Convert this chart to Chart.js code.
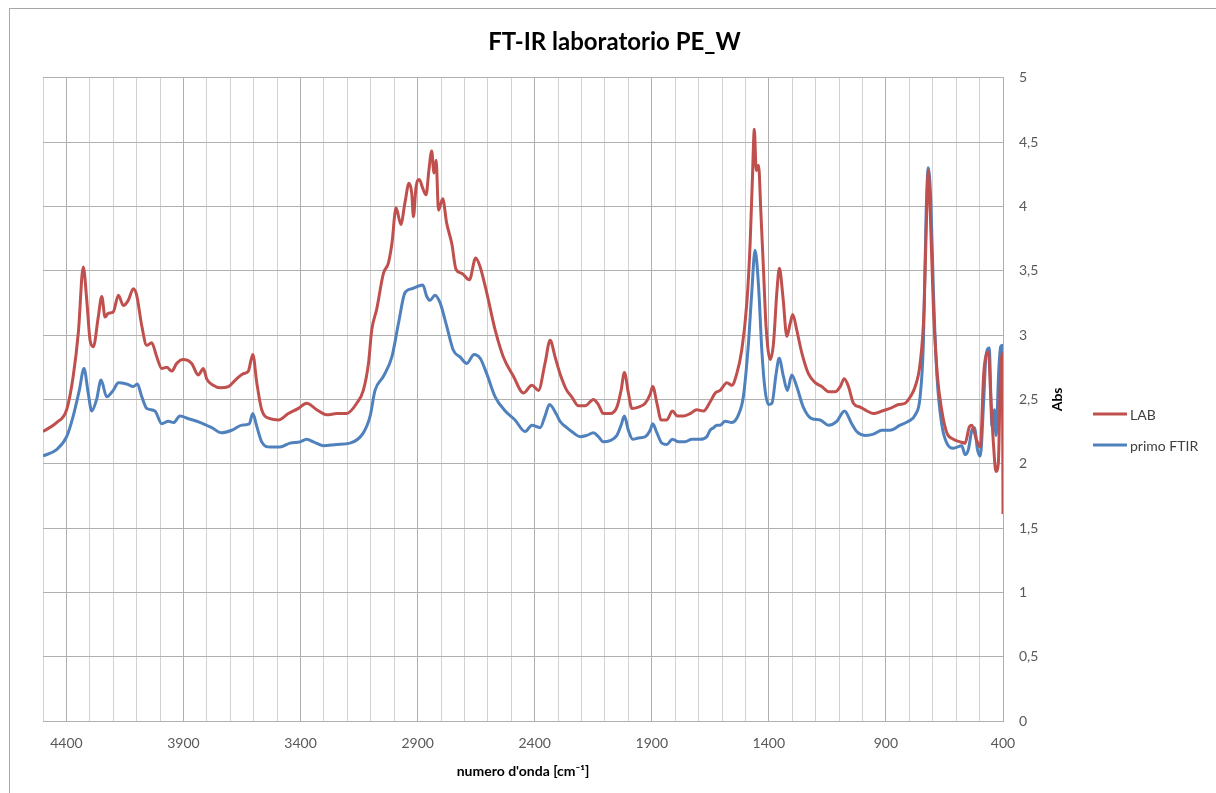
<!DOCTYPE html>
<html>
<head>
<meta charset="utf-8">
<script src="https://cdn.jsdelivr.net/npm/chart.js@4.4.1/dist/chart.umd.min.js"></script>
<style>
  html, body { margin: 0; padding: 0; background: #fff; overflow: hidden; }
  #wrap { position: relative; width: 1216px; height: 793px; }
</style>
</head>
<body>
<div id="wrap"><canvas id="chart" width="1216" height="793"></canvas></div>
<script>
// LAB spectrum (wavenumber cm-1 / absorbance)
const labWn = [4500, 4442, 4399, 4371, 4349, 4328, 4313, 4299, 4285, 4264, 4249, 4235, 4221, 4200, 4178, 4157, 4136, 4114, 4100, 4078,
  4057, 4036, 4014, 3993, 3972, 3950, 3929, 3901, 3865, 3837, 3815, 3801, 3773, 3744, 3708, 3673, 3644, 3623, 3604, 3587,
  3566, 3530, 3495, 3452, 3409, 3374, 3331, 3288, 3245, 3203, 3160, 3132, 3110, 3096, 3075, 3046, 3025, 3010, 2992, 2972,
  2954, 2937, 2925, 2918, 2907, 2893, 2878, 2864, 2852, 2840, 2830, 2821, 2811, 2793, 2776, 2754, 2736, 2711, 2679, 2652,
  2633, 2605, 2569, 2534, 2491, 2448, 2412, 2384, 2356, 2334, 2313, 2292, 2263, 2242, 2213, 2185, 2149, 2128, 2107, 2078,
  2049, 2031, 2017, 2000, 1985, 1957, 1928, 1907, 1896, 1878, 1860, 1836, 1812, 1790, 1765, 1736, 1708, 1679, 1651, 1629,
  1608, 1579, 1558, 1537, 1516, 1494, 1480, 1470, 1462, 1454, 1444, 1434, 1423, 1412, 1394, 1380, 1366, 1355, 1340, 1323,
  1309, 1298, 1281, 1259, 1231, 1202, 1174, 1145, 1117, 1095, 1078, 1060, 1039, 1010, 981, 953, 917, 882, 846, 818,
  796, 775, 754, 737, 725, 719, 711, 697, 680, 662, 640, 612, 583, 562, 543, 533, 514, 497, 483, 476,
  462, 453, 441, 430, 420, 412, 403, 400];
const labAbs = [2.25, 2.32, 2.42, 2.68, 3.02, 3.53, 3.27, 2.96, 2.91, 3.14, 3.30, 3.14, 3.17, 3.18, 3.31, 3.23, 3.27, 3.36, 3.31, 3.07,
  2.92, 2.94, 2.83, 2.74, 2.75, 2.72, 2.78, 2.81, 2.78, 2.69, 2.74, 2.66, 2.61, 2.59, 2.60, 2.66, 2.70, 2.72, 2.85, 2.63,
  2.42, 2.35, 2.34, 2.39, 2.43, 2.47, 2.42, 2.38, 2.39, 2.39, 2.47, 2.57, 2.78, 3.04, 3.20, 3.48, 3.56, 3.71, 3.99, 3.86,
  4.03, 4.18, 4.10, 3.92, 4.15, 4.21, 4.14, 4.09, 4.28, 4.43, 4.26, 4.36, 3.97, 4.06, 3.87, 3.71, 3.51, 3.48, 3.43, 3.60,
  3.53, 3.33, 3.04, 2.83, 2.68, 2.55, 2.61, 2.57, 2.78, 2.96, 2.83, 2.70, 2.57, 2.52, 2.45, 2.45, 2.50, 2.46, 2.39, 2.39,
  2.44, 2.57, 2.71, 2.55, 2.43, 2.44, 2.47, 2.54, 2.60, 2.47, 2.34, 2.34, 2.41, 2.37, 2.37, 2.39, 2.42, 2.41, 2.48, 2.55,
  2.57, 2.63, 2.61, 2.70, 2.88, 3.25, 3.71, 4.23, 4.60, 4.28, 4.32, 3.95, 3.51, 3.07, 2.81, 2.94, 3.33, 3.52, 3.30, 2.99,
  3.09, 3.16, 3.04, 2.86, 2.70, 2.63, 2.60, 2.56, 2.56, 2.60, 2.66, 2.60, 2.47, 2.44, 2.41, 2.39, 2.41, 2.43, 2.46, 2.47,
  2.52, 2.60, 2.78, 3.20, 4.03, 4.28, 3.97, 3.20, 2.68, 2.42, 2.24, 2.19, 2.17, 2.16, 2.29, 2.30, 2.19, 2.13, 2.68, 2.81,
  2.87, 2.55, 2.16, 1.94, 2.00, 2.60, 2.86, 1.61];

// primo FTIR spectrum
const ftirWn = [4500, 4442, 4399, 4371, 4345, 4325, 4307, 4292, 4271, 4252, 4228, 4200, 4178, 4143, 4114, 4097, 4078, 4057, 4022, 3993,
  3965, 3943, 3915, 3879, 3843, 3815, 3779, 3737, 3694, 3651, 3619, 3604, 3587, 3566, 3530, 3488, 3445, 3402, 3374, 3345,
  3303, 3245, 3189, 3132, 3103, 3082, 3046, 3010, 2982, 2954, 2925, 2897, 2878, 2861, 2847, 2826, 2804, 2776, 2747, 2719,
  2690, 2659, 2633, 2605, 2569, 2526, 2484, 2441, 2412, 2377, 2356, 2337, 2306, 2292, 2263, 2235, 2206, 2178, 2149, 2128,
  2107, 2078, 2049, 2031, 2017, 2000, 1981, 1957, 1928, 1907, 1896, 1878, 1857, 1836, 1812, 1786, 1758, 1729, 1694, 1665,
  1651, 1636, 1622, 1608, 1587, 1558, 1530, 1509, 1487, 1473, 1459, 1444, 1430, 1416, 1401, 1387, 1369, 1356, 1338, 1321,
  1302, 1281, 1253, 1217, 1181, 1145, 1110, 1077, 1046, 1025, 989, 953, 917, 882, 839, 804, 775, 754, 740, 728,
  719, 708, 697, 682, 662, 640, 612, 576, 562, 548, 533, 522, 509, 497, 483, 473, 459, 447, 437, 430,
  418, 410, 401, 400];
const ftirAbs = [2.06, 2.11, 2.21, 2.37, 2.57, 2.74, 2.55, 2.41, 2.50, 2.65, 2.52, 2.57, 2.63, 2.62, 2.60, 2.62, 2.52, 2.43, 2.41, 2.31,
  2.33, 2.32, 2.37, 2.35, 2.33, 2.31, 2.28, 2.24, 2.26, 2.30, 2.31, 2.39, 2.29, 2.17, 2.13, 2.13, 2.16, 2.17, 2.19, 2.17,
  2.14, 2.15, 2.16, 2.24, 2.37, 2.57, 2.68, 2.83, 3.09, 3.33, 3.36, 3.38, 3.39, 3.30, 3.27, 3.31, 3.25, 3.07, 2.88, 2.83,
  2.78, 2.85, 2.82, 2.70, 2.52, 2.41, 2.34, 2.25, 2.30, 2.28, 2.37, 2.46, 2.38, 2.33, 2.28, 2.24, 2.21, 2.22, 2.24, 2.21,
  2.17, 2.18, 2.22, 2.30, 2.37, 2.26, 2.19, 2.20, 2.21, 2.26, 2.31, 2.24, 2.16, 2.15, 2.19, 2.17, 2.17, 2.19, 2.19, 2.21,
  2.26, 2.28, 2.30, 2.30, 2.33, 2.32, 2.38, 2.52, 2.94, 3.33, 3.66, 3.38, 2.88, 2.57, 2.46, 2.47, 2.70, 2.82, 2.68, 2.57,
  2.69, 2.60, 2.44, 2.35, 2.34, 2.30, 2.33, 2.41, 2.31, 2.25, 2.22, 2.23, 2.26, 2.26, 2.30, 2.33, 2.38, 2.52, 2.94, 3.97,
  4.30, 4.03, 3.33, 2.68, 2.31, 2.16, 2.12, 2.14, 2.07, 2.11, 2.26, 2.28, 2.11, 2.06, 2.47, 2.83, 2.90, 2.29, 2.42, 2.22,
  2.73, 2.91, 2.92, 2.60];

const seriesNames = ['LAB', 'primo FTIR'];
const seriesColors = ['#C0504D', '#4F81BD'];

const FONT = 'Lato, "Open Sans", sans-serif';
const MAJOR_GRID = '#b0b0b0';
const MINOR_GRID = '#d2d2d2';

function toPoints(xs, ys) {
  return xs.map((x, i) => ({ x: x, y: ys[i] }));
}

// Chart frame, rotated "Abs" title and the legend, drawn Excel-style
const extrasPlugin = {
  id: 'extras',
  beforeDraw(chart) {
    const ctx = chart.ctx;
    ctx.save();
    ctx.fillStyle = '#fff';
    ctx.fillRect(0, 0, chart.width, chart.height);
    ctx.strokeStyle = '#a6a6a6';
    ctx.lineWidth = 1;
    ctx.strokeRect(9.5, 8.5, chart.width, chart.height);
    ctx.restore();
  },
  afterDraw(chart) {
    const ctx = chart.ctx;
    const area = chart.chartArea;
    ctx.save();
    ctx.translate(1057, (area.top + area.bottom) / 2);
    ctx.rotate(-Math.PI / 2);
    ctx.font = 'bold 14px ' + FONT;
    ctx.fillStyle = '#000';
    ctx.textAlign = 'center';
    ctx.textBaseline = 'middle';
    ctx.fillText('Abs', 0, 0);
    ctx.restore();

    ctx.save();
    ctx.font = '14px ' + FONT;
    ctx.textAlign = 'left';
    ctx.textBaseline = 'middle';
    chart.data.datasets.forEach((ds, i) => {
      const y = 414 + i * 31;
      ctx.strokeStyle = ds.borderColor;
      ctx.lineWidth = 3;
      ctx.beginPath();
      ctx.moveTo(1093, y);
      ctx.lineTo(1127, y);
      ctx.stroke();
      ctx.fillStyle = '#404040';
      ctx.fillText(ds.label, 1130, y + 1);
    });
    ctx.restore();
  }
};

new Chart(document.getElementById('chart').getContext('2d'), {
  type: 'line',
  plugins: [extrasPlugin],
  data: {
    datasets: [
      {
        label: seriesNames[0],
        data: toPoints(labWn, labAbs),
        borderColor: seriesColors[0],
        borderWidth: 3,
        pointRadius: 0,
        cubicInterpolationMode: 'monotone',
        borderJoinStyle: 'round'
      },
      {
        label: seriesNames[1],
        data: toPoints(ftirWn, ftirAbs),
        borderColor: seriesColors[1],
        borderWidth: 3,
        pointRadius: 0,
        cubicInterpolationMode: 'monotone',
        borderJoinStyle: 'round'
      }
    ]
  },
  options: {
    responsive: false,
    animation: false,
    layout: { padding: { left: 43, right: 30, top: 0, bottom: 0 } },
    plugins: {
      legend: { display: false },
      tooltip: { enabled: false },
      title: {
        display: true,
        text: 'FT-IR laboratorio PE_W',
        color: '#000',
        font: { family: FONT, size: 24, weight: 'bold' },
        padding: { top: 28, bottom: 21 }
      }
    },
    scales: {
      x: {
        type: 'linear',
        reverse: true,
        min: 400,
        max: 4500,
        afterFit: (scale) => { scale.height = 72; },
        ticks: {
          stepSize: 100,
          autoSkip: false,
          maxRotation: 0,
          padding: 14,
          color: '#595959',
          font: { family: FONT, size: 14 },
          callback: (v) => ((v - 400) % 500 === 0 && v <= 4400) ? String(v) : ''
        },
        grid: {
          drawTicks: false,
          color: (c) => (c.tick && (c.tick.value - 400) % 500 === 0) ? MAJOR_GRID : MINOR_GRID
        },
        border: { color: MAJOR_GRID },
        title: {
          display: true,
          text: "numero d'onda [cm\u207B\u00B9]",
          color: '#000',
          font: { family: FONT, size: 14, weight: 'bold' },
          padding: { top: 0, bottom: 13 }
        }
      },
      y: {
        position: 'right',
        min: 0,
        max: 5,
        afterFit: (scale) => { scale.width = 183; },
        ticks: {
          stepSize: 0.5,
          padding: 16,
          color: '#595959',
          font: { family: FONT, size: 14 },
          callback: (v) => String(v).replace('.', ',')
        },
        grid: { drawTicks: false, color: MAJOR_GRID },
        border: { color: MAJOR_GRID }
      }
    }
  }
});
</script>
</body>
</html>
